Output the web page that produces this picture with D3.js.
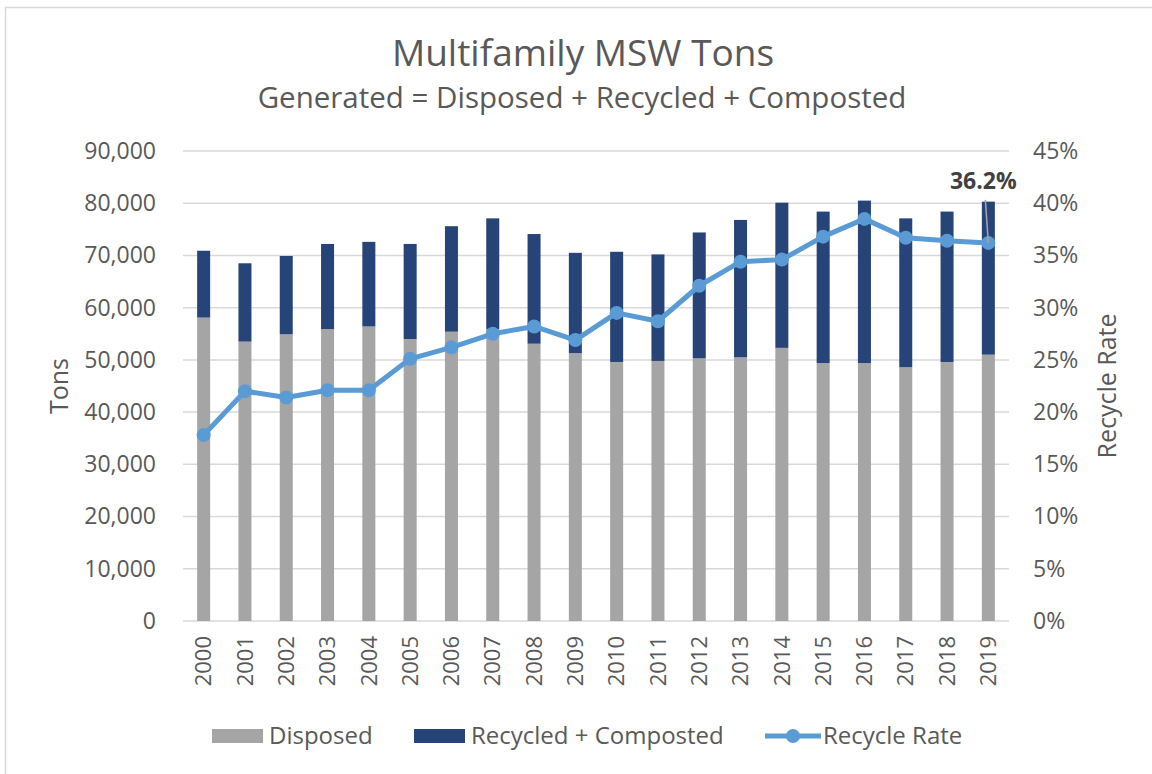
<!DOCTYPE html>
<html>
<head>
<meta charset="utf-8">
<script src="https://cdn.jsdelivr.net/npm/d3@7"></script>
<style>
  body { margin: 0; background: #fff; }
  svg { font-family: "Open Sans", sans-serif; }
</style>
</head>
<body>
<svg id="chart" width="1152" height="774"></svg>
<script>
// data
const years = ["2000","2001","2002","2003","2004","2005","2006","2007","2008","2009",
               "2010","2011","2012","2013","2014","2015","2016","2017","2018","2019"];
const disposed = [58100, 53500, 54900, 55900, 56400, 54000, 55400, 55900, 53100, 51300,
                  49600, 49800, 50300, 50500, 52300, 49400, 49400, 48600, 49600, 51000];
const recycled = [12800, 15000, 15000, 16300, 16200, 18200, 20200, 21200, 21000, 19200,
                  21100, 20400, 24100, 26300, 27800, 29000, 31100, 28500, 28800, 29300];
const recycleRate = [0.178, 0.220, 0.214, 0.221, 0.221, 0.251, 0.262, 0.275, 0.282, 0.269,
                     0.295, 0.287, 0.321, 0.344, 0.346, 0.368, 0.385, 0.367, 0.364, 0.362];
const tonTicks = [0, 10000, 20000, 30000, 40000, 50000, 60000, 70000, 80000, 90000];
const rateTicks = [0, 0.05, 0.10, 0.15, 0.20, 0.25, 0.30, 0.35, 0.40, 0.45];

const grey = "#A5A5A5", navy = "#264478", blue = "#5B9BD5", textCol = "#595959";

const margin = { top: 151, right: 143, bottom: 153, left: 183 },
      width = 1152 - margin.left - margin.right,
      height = 774 - margin.top - margin.bottom;

const root = d3.select("#chart");

// chart area border
root.append("rect")
  .attr("x", 5.5).attr("y", 7.5)
  .attr("width", 1200).attr("height", 800)
  .attr("fill", "none").attr("stroke", "#D9D9D9").attr("stroke-width", 1.5);

// titles
root.append("text")
  .attr("x", 583).attr("y", 66)
  .attr("text-anchor", "middle").attr("font-size", 37).attr("fill", textCol)
  .text("Multifamily MSW Tons");
root.append("text")
  .attr("x", 582).attr("y", 108)
  .attr("text-anchor", "middle").attr("font-size", 29.5).attr("fill", textCol)
  .text("Generated = Disposed + Recycled + Composted");

const svg = root.append("g")
  .attr("transform", `translate(${margin.left},${margin.top})`);

const x = d3.scaleBand()
  .domain(years)
  .range([0, width])
  .paddingInner(0.685)
  .paddingOuter(0.3425);

const y = d3.scaleLinear().domain([0, 90000]).range([height, 0]);
const y2 = d3.scaleLinear().domain([0, 0.45]).range([height, 0]);

// gridlines
svg.append("g")
  .selectAll("line")
  .data(tonTicks)
  .join("line")
    .attr("x1", 0).attr("x2", width)
    .attr("y1", d => y(d)).attr("y2", d => y(d))
    .attr("stroke", "#D9D9D9").attr("stroke-width", 1.5);

// left axis
const yAxis = svg.append("g")
  .call(d3.axisLeft(y).tickValues(tonTicks).tickFormat(d3.format(",")).tickSize(0).tickPadding(27));
yAxis.select(".domain").remove();
yAxis.selectAll("text").attr("font-size", 23).attr("fill", textCol).attr("font-family", "Open Sans");

// right axis
const y2Axis = svg.append("g")
  .attr("transform", `translate(${width},0)`)
  .call(d3.axisRight(y2).tickValues(rateTicks).tickFormat(d3.format(".0%")).tickSize(0).tickPadding(24));
y2Axis.select(".domain").remove();
y2Axis.selectAll("text").attr("font-size", 23).attr("fill", textCol).attr("font-family", "Open Sans");

// bottom axis
const xAxis = svg.append("g")
  .attr("transform", `translate(0,${height})`)
  .call(d3.axisBottom(x).tickSize(0).tickPadding(0));
xAxis.select(".domain").remove();
xAxis.selectAll("text")
  .attr("font-size", 22).attr("fill", textCol).attr("font-family", "Open Sans")
  .attr("transform", "rotate(-90)")
  .attr("text-anchor", "end")
  .attr("x", -15).attr("y", 0).attr("dy", "0.35em");

// axis titles
root.append("text")
  .attr("transform", "translate(68,386) rotate(-90)")
  .attr("text-anchor", "middle").attr("font-size", 25).attr("fill", textCol)
  .text("Tons");
root.append("text")
  .attr("transform", "translate(1116,386) rotate(-90)")
  .attr("text-anchor", "middle").attr("font-size", 25).attr("fill", textCol)
  .text("Recycle Rate");

// stacked bars
svg.append("g").selectAll("rect")
  .data(years)
  .join("rect")
    .attr("x", d => x(d))
    .attr("width", x.bandwidth())
    .attr("y", (d, i) => y(disposed[i]))
    .attr("height", (d, i) => height - y(disposed[i]))
    .attr("fill", grey);

svg.append("g").selectAll("rect")
  .data(years)
  .join("rect")
    .attr("x", d => x(d))
    .attr("width", x.bandwidth())
    .attr("y", (d, i) => y(disposed[i] + recycled[i]))
    .attr("height", (d, i) => y(disposed[i]) - y(disposed[i] + recycled[i]))
    .attr("fill", navy);

// recycle rate line
const cx = d => x(d) + x.bandwidth() / 2;
const line = d3.line()
  .x(d => cx(d))
  .y((d, i) => y2(recycleRate[i]));

svg.append("path")
  .datum(years)
  .attr("d", line)
  .attr("fill", "none")
  .attr("stroke", blue)
  .attr("stroke-width", 5)
  .attr("stroke-linejoin", "round");

svg.append("g").selectAll("circle")
  .data(years)
  .join("circle")
    .attr("cx", d => cx(d))
    .attr("cy", (d, i) => y2(recycleRate[i]))
    .attr("r", 7)
    .attr("fill", blue);

// label on the last point
const last = years.length - 1;
const lx = cx(years[last]), ly = y2(recycleRate[last]);
svg.append("line")
  .attr("x1", lx).attr("y1", ly)
  .attr("x2", lx - 3).attr("y2", ly - 43)
  .attr("stroke", "#A6A6A6").attr("stroke-width", 1.5);
svg.append("text")
  .attr("x", lx - 5).attr("y", ly - 54)
  .attr("text-anchor", "middle")
  .attr("font-size", 23).attr("font-weight", "bold").attr("fill", "#404040")
  .text(d3.format(".1%")(recycleRate[last]));

// legend
const legend = root.append("g").attr("font-size", 24).attr("fill", textCol);
const legendItems = [
  { name: "Disposed", x: 212, type: "rect", color: grey },
  { name: "Recycled + Composted", x: 414, type: "rect", color: navy },
  { name: "Recycle Rate", x: 765, type: "line", color: blue }
];
legendItems.forEach(item => {
  const g = legend.append("g").attr("transform", `translate(${item.x},736)`);
  if (item.type === "rect") {
    g.append("rect").attr("x", 0).attr("y", -7).attr("width", 51).attr("height", 14).attr("fill", item.color);
  } else {
    g.append("line").attr("x1", 0).attr("x2", 56).attr("y1", 0).attr("y2", 0)
      .attr("stroke", item.color).attr("stroke-width", 5);
    g.append("circle").attr("cx", 28).attr("cy", 0).attr("r", 7).attr("fill", item.color);
  }
  g.append("text")
    .attr("x", item.type === "rect" ? 57 : 58)
    .attr("y", 0).attr("dy", "0.35em")
    .text(item.name);
});
</script>
</body>
</html>
